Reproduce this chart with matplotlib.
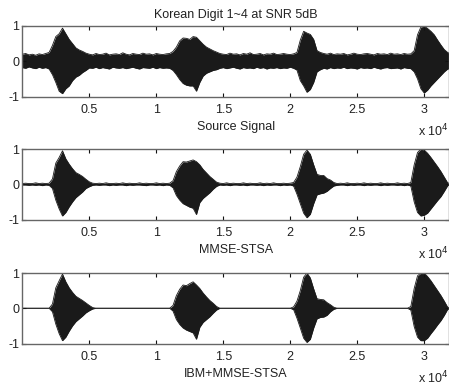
import numpy as np
import matplotlib
matplotlib.use("Agg")
import matplotlib.pyplot as plt

plt.rcParams['font.family'] = ['Liberation Sans', 'DejaVu Sans']

# sample positions of the envelope readings (every 250 samples, 0..32000)
sample_pos = np.arange(0, 32001, 250)

# ---- Source signal envelope (upper / lower) ----
src_upper = [.2, .22, .18, .2, .17, .21, .19, .22,
             .25, .45, .7, .78, .94, .78, .62, .5, .38, .32, .28, .23,
             .2, .18, .22, .19, .2, .23, .18, .2, .21, .19, .24, .2, .18, .22, .2, .19, .23, .2, .21, .18, .22, .2, .19, .21,
             .22, .28, .4, .58, .66, .65, .62, .7, .68, .58, .48, .4, .35, .3, .26,
             .22, .2, .19, .23, .2, .21, .18, .22, .2, .24, .19, .2, .22, .18, .21, .2, .23, .19, .2, .22, .2, .19, .21,
             .25, .6, .85, .8, .76, .62, .3,
             .25, .22, .2, .23, .19, .21, .2, .22, .18, .2, .23, .2, .19, .21, .22, .2, .18, .22, .2, .21, .19, .23, .2, .21, .19, .22, .2, .21,
             .3, .75, .97, 1.0, .93, .85, .75, .6, .46, .33, .25, .2]
src_lower = [-.18, -.2, -.16, -.19, -.21, -.17, -.2, -.18,
             -.22, -.38, -.6, -.85, -.92, -.78, -.7, -.55, -.45, -.4, -.32, -.26,
             -.19, -.2, -.17, -.21, -.18, -.2, -.22, -.17, -.19, -.2, -.18, -.21, -.19, -.17, -.2, -.22, -.18, -.19, -.2, -.17, -.21, -.18, -.2, -.19,
             -.2, -.26, -.38, -.52, -.63, -.68, -.7, -.7, -.85, -.6, -.42, -.34, -.3, -.26, -.24,
             -.2, -.18, -.21, -.19, -.17, -.2, -.22, -.18, -.2, -.19, -.21, -.17, -.2, -.18, -.22, -.19, -.2, -.18, -.21, -.19, -.2, -.17, -.2,
             -.25, -.55, -.7, -.88, -.8, -.6, -.3,
             -.24, -.2, -.22, -.18, -.21, -.19, -.2, -.17, -.21, -.19, -.2, -.22, -.18, -.2, -.19, -.21, -.17, -.2, -.22, -.19, -.18, -.21, -.2, -.19, -.22, -.18, -.2, -.21,
             -.3, -.5, -.78, -.9, -.82, -.7, -.6, -.5, -.4, -.3, -.22, -.2]

# ---- MMSE-STSA envelope ----
mmse_upper = [.02, .03, .02, .02, .04, .02, .03, .02, .03,
              .15, .6, .76, .95, .72, .57, .44, .33, .28, .22, .14, .07, .03,
              .02, .03, .02, .04, .02, .02, .03, .02, .04, .02, .03, .02, .02, .04, .02, .03, .02, .02, .04, .02, .03, .02, .03,
              .1, .36, .52, .64, .63, .66, .69, .64, .55, .42, .32, .22, .14, .06,
              .03, .02, .04, .02, .03, .02, .02, .04, .02, .03, .02, .02, .04, .02, .03, .02, .04, .02, .02, .03, .02, .03,
              .05, .2, .5, .85, .97, .85, .55, .28, .25, .25, .16, .12, .05,
              .02, .03, .02, .04, .02, .02, .03, .02, .04, .02, .03, .02, .02, .04, .02, .03, .02, .02, .04, .02, .03, .02,
              .05, .55, .9, 1.0, .97, .88, .76, .63, .5, .36, .2, .04, .02]
mmse_lower = [-.02, -.02, -.03, -.02, -.03, -.02, -.04, -.02, -.03,
              -.12, -.45, -.7, -.9, -.8, -.64, -.5, -.38, -.3, -.22, -.12, -.07, -.03,
              -.02, -.03, -.02, -.02, -.04, -.02, -.03, -.02, -.02, -.04, -.02, -.03, -.02, -.02, -.03, -.04, -.02, -.02, -.03, -.02, -.04, -.02, -.03,
              -.1, -.32, -.45, -.55, -.6, -.65, -.68, -.86, -.52, -.4, -.32, -.24, -.14, -.06,
              -.02, -.03, -.02, -.04, -.02, -.02, -.03, -.02, -.04, -.02, -.02, -.03, -.02, -.04, -.02, -.03, -.02, -.02, -.04, -.02, -.03, -.02,
              -.05, -.28, -.55, -.82, -.95, -.85, -.55, -.3, -.27, -.25, -.2, -.12, -.05,
              -.03, -.02, -.02, -.04, -.02, -.03, -.02, -.02, -.04, -.02, -.03, -.02, -.02, -.04, -.02, -.03, -.02, -.02, -.03, -.02, -.04, -.02,
              -.05, -.5, -.8, -.9, -.88, -.82, -.7, -.58, -.46, -.35, -.2, -.04, -.02]

# ---- IBM+MMSE-STSA envelope ----
ibm_upper = [0, 0, 0, 0, 0, 0, 0, 0, 0,
             .12, .58, .78, .97, .75, .58, .45, .34, .28, .22, .15, .08, .02,
             0, 0, 0, 0, 0, 0, 0, 0, 0, 0, 0, 0, 0, 0, 0, 0, 0, 0, 0, 0, 0, 0, 0,
             .08, .36, .54, .66, .64, .7, .75, .66, .56, .43, .32, .22, .14, .05,
             0, 0, 0, 0, 0, 0, 0, 0, 0, 0, 0, 0, 0, 0, 0, 0, 0, 0, 0, 0, 0, 0,
             .04, .2, .5, .88, 1.0, .86, .55, .27, .25, .24, .16, .1, .03,
             0, 0, 0, 0, 0, 0, 0, 0, 0, 0, 0, 0, 0, 0, 0, 0, 0, 0, 0, 0, 0, 0,
             .05, .56, .92, 1.0, 1.0, .9, .78, .64, .5, .36, .2, .03, 0]
ibm_lower = [0, 0, 0, 0, 0, 0, 0, 0, 0,
             -.1, -.45, -.72, -.92, -.82, -.65, -.5, -.38, -.3, -.22, -.13, -.07, -.02,
             0, 0, 0, 0, 0, 0, 0, 0, 0, 0, 0, 0, 0, 0, 0, 0, 0, 0, 0, 0, 0, 0, 0,
             -.08, -.32, -.46, -.56, -.62, -.66, -.7, -.88, -.54, -.4, -.32, -.24, -.14, -.05,
             0, 0, 0, 0, 0, 0, 0, 0, 0, 0, 0, 0, 0, 0, 0, 0, 0, 0, 0, 0, 0, 0,
             -.04, -.28, -.56, -.85, -.97, -.88, -.56, -.3, -.26, -.25, -.2, -.1, -.03,
             0, 0, 0, 0, 0, 0, 0, 0, 0, 0, 0, 0, 0, 0, 0, 0, 0, 0, 0, 0, 0, 0,
             -.05, -.52, -.82, -.92, -.92, -.85, -.72, -.6, -.47, -.35, -.2, -.03, 0]

titles = ["Source Signal", "MMSE-STSA", "IBM+MMSE-STSA"]
xtick_vals = [5000, 10000, 15000, 20000, 25000, 30000]
xtick_labels = ["0.5", "1", "1.5", "2", "2.5", "3"]
ytick_vals = [-1, 0, 1]
ytick_labels = ["-1", "0", "1"]

fig = plt.figure(figsize=(4.49, 3.87), dpi=100)
W, H = 449.0, 387.0
left = 22.3 / W
width = 1.0 - left
tops = [26, 149, 273]
ax_h = 70.5

signals = [(src_upper, src_lower), (mmse_upper, mmse_lower), (ibm_upper, ibm_lower)]
wave_col = '#1a1a1a'
txt_col = '#222222'

for k, ((up, lo), name) in enumerate(zip(signals, titles)):
    bottom = 1 - (tops[k] + ax_h) / H
    ax = fig.add_axes([left, bottom, width, ax_h / H])
    ax.fill_between(sample_pos, lo, up, color=wave_col, linewidth=0)
    ax.plot(sample_pos, up, color=wave_col, linewidth=0.6)
    ax.plot(sample_pos, lo, color=wave_col, linewidth=0.6)
    ax.set_xlim(0, 31850)
    ax.set_ylim(-1, 1)
    ax.set_xticks(xtick_vals)
    ax.set_xticklabels(xtick_labels)
    ax.set_yticks(ytick_vals)
    ax.set_yticklabels(ytick_labels)
    ax.tick_params(direction='in', length=3, width=0.8, top=True, right=True,
                   labelsize=9, colors='#111111', labelcolor=txt_col)
    ax.tick_params(axis='x', pad=5.5)
    ax.tick_params(axis='y', pad=2.2)
    for s in ax.spines.values():
        s.set_color('#666666')
        s.set_linewidth(1.0)
    ax.set_xlabel(name, fontsize=9, color=txt_col, labelpad=3.5)
    ax.text(1.0, -0.56, r'x 10$^{4}$', transform=ax.transAxes, ha='right', va='baseline',
            fontsize=9, color=txt_col)
    if k == 0:
        ax.set_title("Korean Digit 1~4 at SNR 5dB", fontsize=9, color=txt_col, pad=6)

fig.savefig("out.png", dpi=100)
